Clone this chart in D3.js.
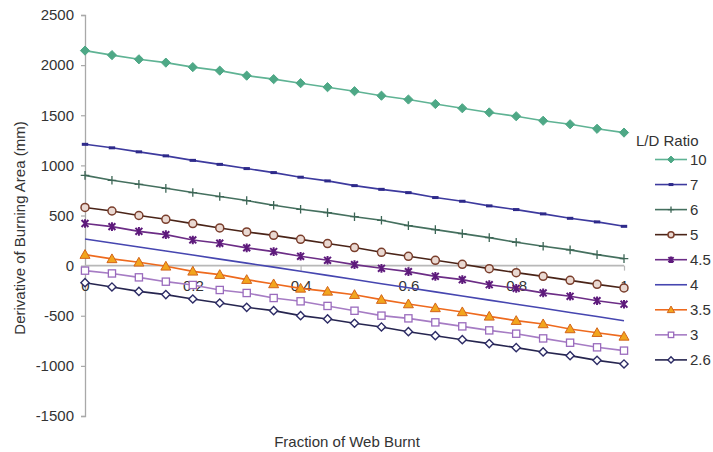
<!DOCTYPE html>
<html>
<head>
<meta charset="utf-8">
<script src="https://cdn.jsdelivr.net/npm/d3@7"></script>
<style>
  html, body { margin: 0; padding: 0; background: #fff; }
  svg { display: block; }
  text { font-family: "Liberation Sans", Arial, sans-serif; fill: #333; }
</style>
</head>
<body>
<svg id="chart" width="713" height="452"></svg>
<script>
// Fraction of web burnt (x values)
const fractions = [0, 0.05, 0.1, 0.15, 0.2, 0.25, 0.3, 0.35, 0.4, 0.45, 0.5,
                   0.55, 0.6, 0.65, 0.7, 0.75, 0.8, 0.85, 0.9, 0.95, 1];

// Derivative of burning area (mm) for each L/D ratio
const ld10  = [2145, 2100, 2058, 2025, 1980, 1945, 1895, 1860, 1820, 1780, 1740, 1695, 1657, 1612, 1570, 1528, 1490, 1445, 1410, 1365, 1327];
const ld7   = [1210, 1175, 1135, 1095, 1050, 1010, 968, 928, 882, 845, 798, 761, 728, 679, 642, 596, 559, 516, 472, 436, 392];
const ld6   = [900, 851, 811, 771, 729, 689, 649, 602, 562, 529, 488, 452, 399, 359, 319, 279, 233, 193, 157, 110, 70];
const ld5   = [580, 545, 500, 462, 419, 376, 336, 302, 262, 220, 180, 133, 93, 53, 13, -30, -70, -107, -147, -187, -223];
const ld4_5 = [420, 389, 342, 309, 256, 223, 177, 140, 93, 53, 10, -27, -60, -107, -140, -190, -227, -272, -306, -350, -385];
const ld4   = [265, 226, 186, 146, 106, 65, 25, -15, -56, -97, -139, -180, -221, -262, -303, -344, -385, -426, -467, -508, -550];
const ld3_5 = [110, 67, 33, -7, -57, -90, -140, -183, -227, -257, -290, -339, -383, -422, -462, -506, -549, -582, -632, -669, -706];
const ld3   = [-50, -78, -117, -160, -193, -243, -273, -323, -356, -402, -450, -499, -526, -566, -606, -646, -679, -726, -769, -815, -848];
const ld2_6 = [-170, -213, -257, -289, -333, -373, -416, -449, -499, -532, -575, -612, -659, -699, -739, -778, -818, -861, -898, -945, -981];

const seriesNames = ["10", "7", "6", "5", "4.5", "4", "3.5", "3", "2.6"];
const seriesValues = [ld10, ld7, ld6, ld5, ld4_5, ld4, ld3_5, ld3, ld2_6];

const xTicks = [0, 0.2, 0.4, 0.6, 0.8, 1];
const yTicks = [-1500, -1000, -500, 0, 500, 1000, 1500, 2000, 2500];

// Visual style per series: line colour, marker shape and marker colours
const styles = {
  "10":  { stroke: "#5fb394", marker: "diamond", fill: "#4ea886", edge: "#4ea886", size: 4.6 },
  "7":   { stroke: "#3d3a9e", marker: "dash",    fill: "#2e2a8a", edge: "#2e2a8a", size: 3.2 },
  "6":   { stroke: "#45705f", marker: "plus",    fill: "none",    edge: "#3d6656", size: 4.3 },
  "5":   { stroke: "#4a2418", marker: "circle",  fill: "#ead9d2", edge: "#7a3e2c", size: 4.0 },
  "4.5": { stroke: "#6c2d86", marker: "star",    fill: "none",    edge: "#5e1a7c", size: 4.3 },
  "4":   { stroke: "#4646b0", marker: "none" },
  "3.5": { stroke: "#ee6a1e", marker: "triangle",fill: "#f2a51e", edge: "#d3641a", size: 5.0 },
  "3":   { stroke: "#a67cc4", marker: "square",  fill: "#ffffff", edge: "#9a6bbd", size: 3.6 },
  "2.6": { stroke: "#26254f", marker: "odiamond",fill: "#ffffff", edge: "#2d2c66", size: 4.1 }
};

const svg = d3.select("#chart");

const x = d3.scaleLinear().domain([0, 1]).range([85, 624]);
const y = d3.scaleLinear().domain([-1500, 2500]).range([416, 15]);

const fontFamily = '"Liberation Sans", Arial, sans-serif';

// Y axis (left), plain hyphen for negative values
const yAxis = d3.axisLeft(y).tickValues(yTicks).tickSize(4).tickPadding(7).tickFormat(d => String(d));
const gy = svg.append("g").attr("transform", `translate(${x(0)},0)`).call(yAxis);
gy.select(".domain").attr("stroke", "#a9a9a9").attr("stroke-width", 1.3);
gy.selectAll(".tick line").attr("stroke", "#a9a9a9").attr("stroke-width", 1.2);
gy.selectAll(".tick text").attr("font-size", 15).attr("fill", "#333").style("font-family", fontFamily);

// X axis drawn along the zero line
const xAxis = d3.axisBottom(x).tickValues(xTicks).tickSize(5).tickPadding(10)
  .tickFormat(d => d === 0 || d === 1 ? String(d) : d.toFixed(1));
const gx = svg.append("g").attr("transform", `translate(0,${y(0)})`).call(xAxis);
gx.select(".domain").attr("stroke", "#b8b8b8").attr("stroke-width", 1.6).attr("d", `M${x(0)},0H${x(1)}`);
gx.selectAll(".tick line").attr("stroke", "#b8b8b8").attr("stroke-width", 1.2);
gx.selectAll(".tick text").attr("font-size", 15).attr("fill", "#333").style("font-family", fontFamily);

// Axis titles
svg.append("text")
  .attr("x", 347).attr("y", 447)
  .attr("text-anchor", "middle").attr("font-size", 15)
  .text("Fraction of Web Burnt");

svg.append("text")
  .attr("transform", "translate(25,228) rotate(-90)")
  .attr("text-anchor", "middle").attr("font-size", 15)
  .text("Derivative of Burning Area (mm)");

// Marker drawing helper
function drawMarker(g, shape, cx, cy, st, scale) {
  const s = st.size * (scale || 1);
  if (shape === "diamond" || shape === "odiamond") {
    g.append("path")
      .attr("d", `M${cx},${cy - s}L${cx + s},${cy}L${cx},${cy + s}L${cx - s},${cy}Z`)
      .attr("fill", st.fill).attr("stroke", st.edge).attr("stroke-width", shape === "odiamond" ? 1.4 : 1);
  } else if (shape === "dash") {
    g.append("rect").attr("x", cx - s).attr("y", cy - 1.5).attr("width", 2 * s).attr("height", 3)
      .attr("fill", st.fill);
  } else if (shape === "plus") {
    g.append("path")
      .attr("d", `M${cx - s},${cy}H${cx + s}M${cx},${cy - s}V${cy + s}`)
      .attr("stroke", st.edge).attr("stroke-width", 1.3).attr("fill", "none");
  } else if (shape === "circle") {
    g.append("circle").attr("cx", cx).attr("cy", cy).attr("r", s)
      .attr("fill", st.fill).attr("stroke", st.edge).attr("stroke-width", 1.5);
  } else if (shape === "star") {
    const d = s * 0.8;
    g.append("path")
      .attr("d", `M${cx - d},${cy - d}L${cx + d},${cy + d}M${cx - d},${cy + d}L${cx + d},${cy - d}M${cx},${cy - s}V${cy + s}`)
      .attr("stroke", st.edge).attr("stroke-width", 2).attr("fill", "none");
  } else if (shape === "triangle") {
    g.append("path")
      .attr("d", `M${cx},${cy - s}L${cx + s},${cy + s * 0.75}L${cx - s},${cy + s * 0.75}Z`)
      .attr("fill", st.fill).attr("stroke", st.edge).attr("stroke-width", 1);
  } else if (shape === "square") {
    g.append("rect").attr("x", cx - s).attr("y", cy - s).attr("width", 2 * s).attr("height", 2 * s)
      .attr("fill", st.fill).attr("stroke", st.edge).attr("stroke-width", 1.3);
  }
}

// Series lines and markers
const line = d3.line().x((d, i) => x(fractions[i])).y(d => y(d));

seriesNames.forEach((name, k) => {
  const st = styles[name];
  const vals = seriesValues[k];
  const g = svg.append("g").attr("class", "series");
  g.append("path").datum(vals)
    .attr("d", line)
    .attr("fill", "none")
    .attr("stroke", st.stroke)
    .attr("stroke-width", 1.6);
  if (st.marker !== "none") {
    vals.forEach((v, i) => drawMarker(g, st.marker, x(fractions[i]), y(v), st));
  }
});

// Legend
const legend = svg.append("g");
legend.append("text").attr("x", 636).attr("y", 146).attr("font-size", 15).text("L/D Ratio");

seriesNames.forEach((name, k) => {
  const st = styles[name];
  const ly = 159.5 + k * 25.05;
  legend.append("line")
    .attr("x1", 655).attr("x2", 687).attr("y1", ly).attr("y2", ly)
    .attr("stroke", st.stroke).attr("stroke-width", 1.6);
  if (st.marker !== "none") drawMarker(legend, st.marker, 671, ly, st, 0.75);
  legend.append("text").attr("x", 690).attr("y", ly + 5.5).attr("font-size", 15).text(name);
});
</script>
</body>
</html>
